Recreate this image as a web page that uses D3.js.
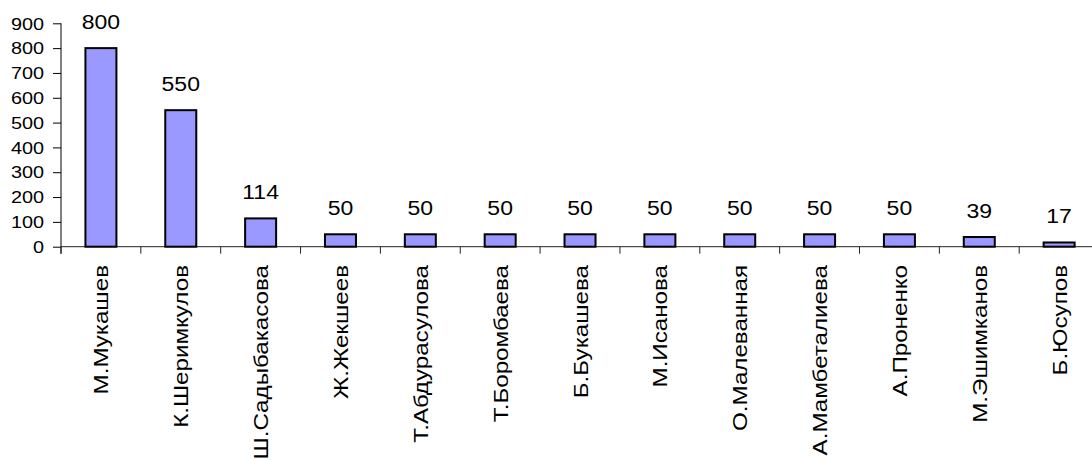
<!DOCTYPE html>
<html>
<head>
<meta charset="utf-8">
<script src="https://cdn.jsdelivr.net/npm/d3@7"></script>
<style>
  html, body { margin: 0; padding: 0; background: #fff; }
  svg { display: block; }
  text { font-family: "Liberation Sans", Arial, sans-serif; fill: #000; }
</style>
</head>
<body>
<svg id="chart" width="1092" height="460"></svg>
<script>
const categories = ["М.Мукашев", "К.Шеримкулов", "Ш.Садыбакасова", "Ж.Жекшеев", "Т.Абдурасулова", "Т.Боромбаева", "Б.Букашева", "М.Исанова", "О.Малеванная", "А.Мамбеталиева", "А.Проненко", "М.Эшимканов", "Б.Юсупов"];
const values = [800, 550, 114, 50, 50, 50, 50, 50, 50, 50, 50, 39, 17];
const yTicks = [0, 100, 200, 300, 400, 500, 600, 700, 800, 900];

const svg = d3.select("#chart");
const x0 = 61, xStep = 79.85;
const x = d3.scaleBand().domain(categories).range([x0, x0 + xStep * categories.length]).padding(0);
const y = d3.scaleLinear().domain([0, 900]).range([246.7, 23.3]);

function stretch(sel, f) {
  sel.each(function() {
    const len = this.getComputedTextLength();
    d3.select(this).attr("textLength", len * f).attr("lengthAdjust", "spacingAndGlyphs");
  });
}

// Y axis
const yAxis = d3.axisLeft(y).tickValues(yTicks).tickSize(8).tickPadding(9).tickFormat(d3.format("d"));
const gy = svg.append("g").attr("transform", `translate(${x0},0)`).call(yAxis);
gy.select(".domain").attr("stroke", "#000").attr("stroke-width", 1).attr("d", `M0,${y(900)}V${y(0) + 7}`);
gy.selectAll(".tick line").attr("stroke", "#000");
gy.selectAll(".tick text").attr("font-size", 16).attr("font-family", "Liberation Sans, Arial, sans-serif").attr("fill", "#000").attr("dy", "0.36em").call(stretch, 1.24);

// X axis line and ticks
svg.append("line").attr("x1", x0).attr("x2", 1092).attr("y1", y(0)).attr("y2", y(0)).attr("stroke", "#222").attr("stroke-width", 1);
const bounds = categories.map(c => x(c)).concat([x0 + xStep * categories.length]);
svg.append("g").selectAll("line").data(bounds).join("line")
  .attr("x1", d => d).attr("x2", d => d)
  .attr("y1", y(0)).attr("y2", y(0) + 7)
  .attr("stroke", "#222").attr("stroke-width", 1);

// Bars
const barW = 31;
svg.append("g").selectAll("rect").data(values).join("rect")
  .attr("x", (d, i) => x(categories[i]) + x.bandwidth() / 2 - barW / 2)
  .attr("y", d => y(d))
  .attr("width", barW)
  .attr("height", d => y(0) - y(d))
  .attr("fill", "#9999ff")
  .attr("stroke", "#000")
  .attr("stroke-width", 2);

// Data labels
svg.append("g").selectAll("text").data(values).join("text")
  .attr("x", (d, i) => x(categories[i]) + x.bandwidth() / 2)
  .attr("y", d => y(d) - 19.5)
  .attr("text-anchor", "middle")
  .attr("font-size", 20)
  .text(d => d)
  .call(stretch, 1.15);

// Category labels
svg.append("g").selectAll("text").data(categories).join("text")
  .attr("transform", d => `translate(${x(d) + x.bandwidth() / 2},265) rotate(-90)`)
  .attr("text-anchor", "end")
  .attr("dy", "0.36em")
  .attr("font-size", 21)
  .text(d => d)
  .call(stretch, 1.15);
</script>
</body>
</html>
